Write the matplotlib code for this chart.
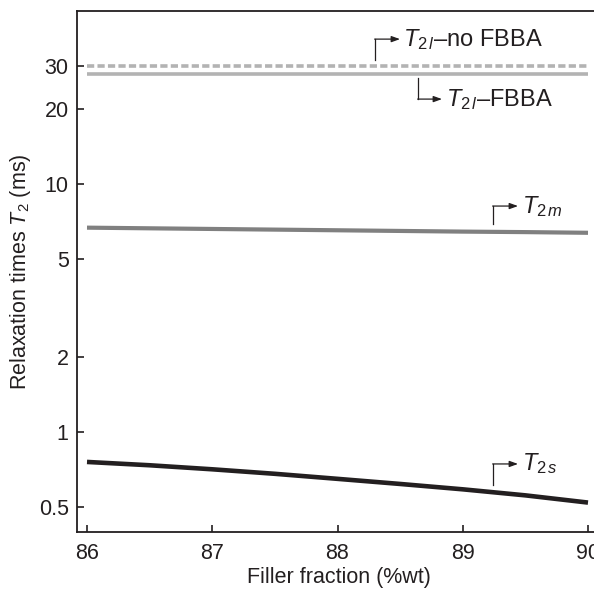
import matplotlib
matplotlib.use("Agg")
import matplotlib.pyplot as plt
import numpy as np

plt.rcParams['font.family'] = ['Liberation Sans', 'DejaVu Sans']
plt.rcParams['mathtext.fontset'] = 'custom'
plt.rcParams['mathtext.rm'] = 'Liberation Sans'
plt.rcParams['mathtext.it'] = 'Liberation Sans:italic'

# Data
filler = [86.0, 86.5, 87.0, 87.5, 88.0, 88.5, 89.0, 89.5, 90.0]
t2l_no_fbba = [30.0] * 9
t2l_fbba = [27.8] * 9
t2m = [6.67, 6.63, 6.59, 6.55, 6.51, 6.47, 6.43, 6.40, 6.36]
t2s = [0.757, 0.734, 0.707, 0.678, 0.647, 0.617, 0.587, 0.555, 0.519]

yticks = [0.5, 1, 2, 5, 10, 20, 30]
ytick_labels = ['0.5', '1', '2', '5', '10', '20', '30']
xticks = [86, 87, 88, 89, 90]

PXU = 125.25  # pixels per x unit

fig = plt.figure(figsize=(5.94, 5.91), dpi=100)
ax = fig.add_axes([77/594, 1 - 531.7/591, (600 - 77)/594, (531.7 - 11)/591])

ax.plot(filler, t2l_no_fbba, color='#b3b3b3', lw=2.6, linestyle=(0, (2.0, 0.9)), solid_capstyle='butt')
ax.plot(filler, t2l_fbba, color='#b3b3b3', lw=2.6, solid_capstyle='butt')
ax.plot(filler, t2m, color='#808080', lw=3.0, solid_capstyle='butt')
ax.plot(filler, t2s, color='#231f20', lw=3.3, solid_capstyle='butt')

ax.set_yscale('log')
ax.set_xlim(86 - 10 / PXU, 86 + (600 - 87) / PXU)
ax.set_ylim(0.396, 49.9)
ax.set_yticks(yticks)
ax.set_yticklabels(ytick_labels)
ax.yaxis.set_minor_locator(matplotlib.ticker.NullLocator())
ax.set_xticks(xticks)
ax.tick_params(direction='in', length=5, width=1.2, labelsize=15.5, colors='#231f20', pad=6)
ax.tick_params(axis='x', pad=8)
for s in ['left', 'bottom', 'top']:
    ax.spines[s].set_linewidth(1.3)
    ax.spines[s].set_color('#231f20')
ax.spines['right'].set_visible(False)

ax.set_xlabel('Filler fraction (%wt)', fontsize=15.5, color='#231f20', labelpad=2)
ax.set_ylabel(r'Relaxation times $T_2$ (ms)', fontsize=15.5, color='#231f20', labelpad=4)

def px2x(px):
    return 86 + (px - 87) / PXU

def py2y(py):
    return 10 ** (1 + (184 - py) / 248)

labels = [
    (r'$T_{2\,l}$–no FBBA', 375, 60, 39, 400, 403),
    (r'$T_{2\,l}$–FBBA', 418, 78, 99, 442, 446),
    (r'$T_{2\,m}$', 493, 224, 206, 518, 522),
    (r'$T_{2\,s}$', 493, 485, 464, 518, 522),
]
for text, vx, vy0, vy1, hx, tx in labels:
    ax.plot([px2x(vx), px2x(vx)], [py2y(vy0), py2y(vy1)], color='#231f20', lw=0.9)
    ax.annotate('', xy=(px2x(hx), py2y(vy1)), xytext=(px2x(vx) - 0.003, py2y(vy1)),
                arrowprops=dict(arrowstyle='-|>,head_length=0.5,head_width=0.18',
                                color='#231f20', lw=0.9, shrinkA=0, shrinkB=0))
    ax.text(px2x(tx), py2y(vy1), text, fontsize=17, color='#231f20', va='center', ha='left')

fig.savefig('out.png', dpi=100)
